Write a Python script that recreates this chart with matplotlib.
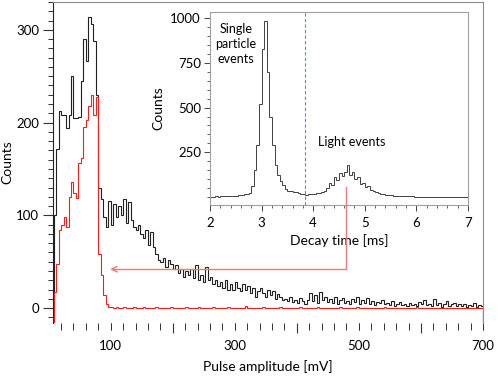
import numpy as np
import matplotlib
matplotlib.use("Agg")
import matplotlib.pyplot as plt
from matplotlib.ticker import MultipleLocator, FixedLocator

plt.rcParams['font.family'] = ['Lato', 'DejaVu Sans']

# pulse amplitude spectrum, 4 mV bins starting at 8 mV
amp_start = 8
amp_step = 4
total_counts = [
    100, 172, 213, 208, 208, 194, 208, 250, 205, 205, 206, 245, 290, 266, 314, 306, 288, 230,
    130, 118, 98, 88, 116, 90, 112, 98, 110, 100, 118, 92, 114, 95, 88, 84, 90, 80, 76, 84,
    68, 82, 66, 58, 52, 50, 54, 44, 52, 48, 42, 46, 38, 42, 34, 40, 36, 42, 32, 46, 30, 36,
    28, 44, 30, 34, 26, 30, 24, 28, 22, 30, 20, 26, 20,
    # 300 mV onwards
    28, 22, 18, 26, 20, 24, 16, 22, 12, 18,
    22, 16, 12, 20, 14, 18, 10, 15, 12, 9,
    10, 8, 12, 7, 9, 6, 11, 8, 5, 9,
    16, 8, 14, 6, 17, 9, 12, 7, 10, 6,
    12, 5, 9, 11, 6, 8, 4, 10, 7, 12,
    5, 9, 6, 11, 4, 8, 3, 7, 6, 9,
    4, 6, 3, 8, 2, 5, 7, 3, 5, 2,
    6, 3, 5, 2, 7, 4, 9, 3, 5, 2,
    10, 3, 6, 1, 5, 8, 2, 4, 6, 2,
    4, 2, 5, 1, 3, 2, 6, 1, 3, 2,
]
single_counts = [
    17, 48, 84, 90, 98, 87, 120, 136, 124, 119, 157, 162, 195, 203, 218, 230, 208, 228,
    58, 36, 14, 4, 1, 1,
    # 104 mV onwards
    0, 1, 0, 0, 1, 0, 0, 0, 1, 0,
    0, 0, 1, 0, 0, 0, 0, 1, 0, 0,
    0, 0, 0, 1, 0, 0, 0, 0, 0, 1,
    0, 0, 0, 0, 1, 0, 0, 0, 0, 0,
    1, 0, 0, 0, 0, 0, 1, 0, 0, 0,
    0, 0, 0, 2, 0, 0, 0, 0, 0, 0,
    1, 0, 0, 0, 0, 0, 0, 1, 0, 0,
    0, 0, 0, 0, 0, 1, 0, 0, 0, 0,
    0, 0, 1, 0, 0, 0, 0, 0, 0, 0,
    0, 1, 0, 0, 0, 0, 0, 0, 1, 0,
    0, 0, 0, 0, 0, 0, 0, 0, 0, 1,
    0, 0, 0, 0, 0, 0, 0, 0, 0, 0,
    0, 0, 1, 0, 0, 0, 0, 0, 0, 0,
    0, 0, 0, 0, 0, 0, 0, 0, 0, 0,
    0, 0, 0, 0, 0, 0, 0, 0, 0,
]

# decay time histogram (inset), 0.05 ms bins from 2 ms
decay_start = 2.0
decay_step = 0.05
decay_counts = [
    2, 1, 3, 2, 4, 3, 5, 6, 5, 8, 7, 10, 12, 14, 18, 24,
    60, 150, 290, 520, 830, 985, 700, 450, 290, 180, 125, 90, 65, 42, 35, 32,
    28, 25, 22, 18, 15, 12, 14, 18,
    16, 20, 22, 26, 35, 50, 80, 65, 110, 95, 135, 120, 140, 180, 125, 140, 100, 110, 75, 80,
    55, 60, 40, 35, 28, 24, 18, 15, 12, 10, 9, 7, 6, 5, 6, 4, 3, 4, 3, 2,
    2, 1, 2, 1, 1, 2, 1, 0, 1, 1, 0, 1, 0, 0, 1, 0, 0, 0, 0, 0,
]
decay_cut = 3.85

amp_edges = amp_start + amp_step * np.arange(len(total_counts) + 1)
decay_edges = decay_start + decay_step * np.arange(len(decay_counts) + 1)

fig = plt.figure(figsize=(4.98, 3.78), dpi=100)
W, H = 498, 378

ax = fig.add_axes([53 / W, 55 / H, 430 / W, 321 / H])
ymin = -16
ax.stairs(total_counts, amp_edges, baseline=ymin, color='#202020', lw=0.8, zorder=2)
ax.stairs(single_counts, amp_edges, baseline=ymin, color='#ff1a1a', lw=0.8, zorder=3)
ax.set_xlim(7, 700)
ax.set_ylim(ymin, 330)

for side in ['top', 'right']:
    ax.spines[side].set_color('#8c8c8c')
ax.spines['bottom'].set_visible(False)
ax.spines['left'].set_color('#222222')

ax.yaxis.set_major_locator(MultipleLocator(100))
ax.yaxis.set_minor_locator(MultipleLocator(10))
ax.tick_params(axis='y', which='major', direction='out', length=7, width=0.8,
               color='#333333', pad=3, labelsize=9.5)
ax.tick_params(axis='y', which='minor', direction='out', length=3.5, width=0.7, color='#333333')

ax.xaxis.set_major_locator(FixedLocator([200, 400, 600]))
ax.xaxis.set_minor_locator(MultipleLocator(20))
ax.set_xticklabels([])
ax.tick_params(axis='x', which='major', direction='out', length=7.2, width=0.8, color='#333333')
ax.tick_params(axis='x', which='minor', direction='out', length=5, width=0.7, color='#333333')

sec = ax.secondary_xaxis('bottom')
sec.set_xticks([100, 300, 500, 700])
sec.tick_params(direction='out', length=5, width=0.7, color='#333333', pad=7, labelsize=9.5)
sec.spines['bottom'].set_visible(False)
sec.set_xlabel('Pulse amplitude [mV]', fontsize=10, labelpad=6)

ax.set_ylabel('Counts', fontsize=10, labelpad=2)

# inset
ax_in = fig.add_axes([210 / W, (H - 205) / H, 258 / W, 193 / H])
ax_in.set_facecolor('white')
ax_in.stairs(decay_counts, decay_edges, baseline=None, color='#404040', lw=0.7)
ax_in.axvline(decay_cut, color='#4a90d9', ls=(0, (3, 2)), lw=0.8)
ax_in.set_xlim(2, 7)
ax_in.set_ylim(-45, 1035)
for s in ax_in.spines.values():
    s.set_color('#a0a0a0')
ax_in.xaxis.set_major_locator(MultipleLocator(1))
ax_in.xaxis.set_minor_locator(MultipleLocator(0.2))
ax_in.yaxis.set_major_locator(FixedLocator([250, 500, 750, 1000]))
ax_in.yaxis.set_minor_locator(MultipleLocator(50))
ax_in.tick_params(which='major', direction='out', length=4.5, width=0.7, color='#444444',
                  pad=2, labelsize=9.5)
ax_in.tick_params(which='minor', direction='out', length=2.5, width=0.6, color='#444444')
ax_in.tick_params(axis='x', which='major', pad=4)
ax_in.set_xlabel('Decay time [ms]', fontsize=10, labelpad=4)
ax_in.set_ylabel('Counts', fontsize=10, labelpad=4)

ax_in.text(2.5, 856, 'Single\nparticle\nevents', ha='center', va='center',
           fontsize=9, linespacing=1.3)
ax_in.text(4.75, 305, 'Light events', ha='center', va='center', fontsize=9)

ax_in.annotate('', xy=(99, 42), xycoords=ax.transData, xytext=(4.63, 58), textcoords='data',
               arrowprops=dict(arrowstyle='->', color='#f07878', lw=1.0,
                               connectionstyle='angle,angleA=90,angleB=0,rad=0',
                               shrinkA=0, shrinkB=0),
               annotation_clip=False)

fig.savefig('out.png', dpi=100)
